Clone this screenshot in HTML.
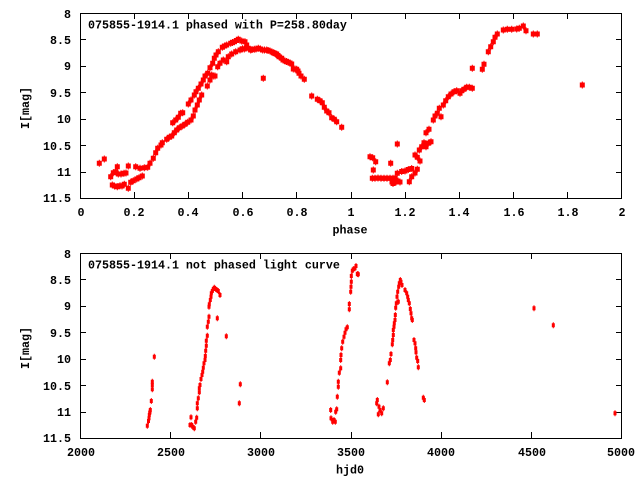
<!DOCTYPE html>
<html><head><meta charset="utf-8"><style>
html,body{margin:0;padding:0;background:#fff}
svg{display:block}
text{font-family:"Liberation Mono",monospace;font-weight:bold;font-size:11.67px;fill:#000}
</style></head><body>
<svg width="640" height="480" viewBox="0 0 640 480" xmlns="http://www.w3.org/2000/svg">
<defs>
<marker id="a" markerUnits="userSpaceOnUse" overflow="visible" refX="0" refY="0" markerWidth="1" markerHeight="1"><path d="M-2.5-2.5h5v5h-5zM-0.5-3.5h1v7h-1z" fill="#ff0000"/></marker>
<marker id="b" markerUnits="userSpaceOnUse" overflow="visible" refX="0" refY="0" markerWidth="1" markerHeight="1"><path d="M-1.5-2h3v4h-3zM-0.5-3h1v6h-1z" fill="#ff0000"/></marker>
</defs>
<rect width="640" height="480" fill="#fff"/>

<!-- TOP PLOT -->
<g stroke="#000" stroke-width="1" shape-rendering="crispEdges" fill="none">
<rect x="80.5" y="13.5" width="541" height="185"/>
<path d="M80 39.5h6M80 66.5h6M80 92.5h6M80 119.5h6M80 145.5h6M80 172.5h6
M622 39.5h-6M622 66.5h-6M622 92.5h-6M622 119.5h-6M622 145.5h-6M622 172.5h-6
M134.5 198v-6M188.5 198v-6M242.5 198v-6M296.5 198v-6M351.5 198v-6M405.5 198v-6M459.5 198v-6M513.5 198v-6M567.5 198v-6
M134.5 13v6M188.5 13v6M242.5 13v6M296.5 13v6M351.5 13v6M405.5 13v6M459.5 13v6M513.5 13v6M567.5 13v6"/>
</g>
<g text-anchor="end">
<text x="71" y="18">8</text>
<text x="71" y="44">8.5</text>
<text x="71" y="70">9</text>
<text x="71" y="97">9.5</text>
<text x="71" y="123">10</text>
<text x="71" y="150">10.5</text>
<text x="71" y="176">11</text>
<text x="71" y="202">11.5</text>
</g>
<g text-anchor="middle">
<text x="81" y="216">0</text>
<text x="134" y="216">0.2</text>
<text x="188" y="216">0.4</text>
<text x="243" y="216">0.6</text>
<text x="297" y="216">0.8</text>
<text x="351" y="216">1</text>
<text x="405" y="216">1.2</text>
<text x="459" y="216">1.4</text>
<text x="514" y="216">1.6</text>
<text x="568" y="216">1.8</text>
<text x="622" y="216">2</text>
<text x="350" y="233.5">phase</text>
<text x="29" y="108" transform="rotate(-90 29 108)">I[mag]</text>
</g>
<text x="88" y="28.3">075855-1914.1 phased with P=258.80day</text>

<path fill="none" stroke="none" marker-start="url(#a)" marker-mid="url(#a)" marker-end="url(#a)" d="M99.3 163.3 104.3 159 110.7 176.7 113.3 172.7 117.3 166.7 115.7 171.7 118.3 174 121 174 124 173.3 126 173 128.3 166 112.3 185 114.5 186 117.3 186.7 120 185.7 122 186 124.3 184.3 128.3 188.3 130.7 182.3 133.3 180.7 136.7 179 139 177.7 142.3 176 135.7 166.7 140 168.3 144.3 167.7 147.7 167.3 150 163.3 153.3 158.3 155.7 152.7 157.7 148.3 161 145 162.3 142.7 166.7 139.3 169.3 137.3 171.7 136 174.3 132.7 176.7 130 179.3 127.7 182.3 126 185 124.3 187.7 122.3 191 120 193.3 116 172.7 122.7 175.7 120 178.3 117.3 180.7 113.3 182.7 112.7 188.3 104 191 100 195 110 197.3 105 199.3 100 201.7 95 194.3 95 196 91.7 198.3 88.3 201 84 203.3 80 205 76 207.7 73.3 210 80 207.3 86 211.7 75 213.3 76 210 67.7 212.7 63.3 214.3 58.3 215 76 217.7 66.7 220 63.3 223.3 60 226.7 61.7 228.3 56.7 231.7 54 235.7 51.7 240 50 244.3 49 248.3 48.3 216 55 218.3 51.7 222.3 47.3 224.5 46 226.7 45 230.7 43.3 232.5 42.5 234.3 41.7 236.5 40.5 238.3 39.3 241.7 41 245 41.7 246.7 45 242.5 48.7 250.7 50 252 49.5 254.3 49.3 256 49 258.3 48.3 260.5 49 262.7 50 264.5 50 266.7 50 268 50.5 270 51 272 52 273.3 52.7 275 53.5 276.7 54 278 55.5 279 56.7 281.7 58.3 283 60 285 61 286.5 61.5 288.3 62.3 290 63 291.7 64 293.3 69 295 69 296.7 69.3 298 71 299 73.3 301 76 304.3 79.3 263.3 78.3 311.7 96 317.3 99.3 320 100.7 322.3 102.7 324.3 107.3 326.7 111 329 112.7 331.7 117.7 334.3 119.3 336.7 121.7 341.7 127.3 370 156.7 372.7 157.7 375.7 161.7 373.3 170 372.3 178.3 375 178.3 378 178 381 178.3 384 178.3 387 178.3 390 178.3 393 178.3 395 178.3 390.7 163.3 397.3 144 392 182 393 183.5 396 182 398 181 400 182 397.3 173.3 401.7 171.5 405 171 408.3 169.5 411.7 168.5 409.3 181.7 411.7 176.7 415 173 417.3 169.3 415 155 417.3 157.3 420 161 419.3 150 421.7 146.7 424 142.7 426 146.7 428.3 143.3 431 141.7 426 132.7 429 129.3 433.3 120 435 116 437.3 113.3 439.3 108.3 441 116.7 443.3 105 445.7 100.7 448.3 96.7 451 94 454 91.7 456.7 90.7 460 93.3 461.7 90.7 464 89.3 466.7 87.3 469.3 87.3 472.3 88.3 472.3 68.3 482.3 69.3 484 64.3 488.3 51.7 490.7 46.7 493.3 41.7 495 37.3 497.3 34 503.3 30 507.3 29.3 511.7 29.3 516.7 29 519.3 28.3 523.3 26 526 30.7 533.3 34 537.3 34 582.3 85"/>

<!-- BOTTOM PLOT -->
<g stroke="#000" stroke-width="1" shape-rendering="crispEdges" fill="none">
<rect x="80.5" y="253.5" width="541" height="185"/>
<path d="M80 279.5h6M80 306.5h6M80 332.5h6M80 359.5h6M80 385.5h6M80 412.5h6
M622 279.5h-6M622 306.5h-6M622 332.5h-6M622 359.5h-6M622 385.5h-6M622 412.5h-6
M170.5 438v-6M260.5 438v-6M351.5 438v-6M441.5 438v-6M531.5 438v-6
M170.5 253v6M260.5 253v6M351.5 253v6M441.5 253v6M531.5 253v6"/>
</g>
<g text-anchor="end">
<text x="71" y="258">8</text>
<text x="71" y="284">8.5</text>
<text x="71" y="310">9</text>
<text x="71" y="337">9.5</text>
<text x="71" y="363">10</text>
<text x="71" y="390">10.5</text>
<text x="71" y="416">11</text>
<text x="71" y="442">11.5</text>
</g>
<g text-anchor="middle">
<text x="81" y="456">2000</text>
<text x="171" y="456">2500</text>
<text x="261" y="456">3000</text>
<text x="351" y="456">3500</text>
<text x="441" y="456">4000</text>
<text x="532" y="456">4500</text>
<text x="621" y="456">5000</text>
<text x="350" y="473.5">hjd0</text>
<text x="29" y="348" transform="rotate(-90 29 348)">I[mag]</text>
</g>
<text x="88" y="268.3">075855-1914.1 not phased light curve</text>

<path fill="none" stroke="none" marker-start="url(#b)" marker-mid="url(#b)" marker-end="url(#b)" d="M147.3 425.7 148.5 421 149 418.3 149.3 415 149.7 413 150 411.7 150.3 410 151.3 401 152.3 389.3 152.3 385 152.3 381.7 154.3 356.7 191 417.3 190 425 191.7 425 192.7 426.7 194.3 428.3 195.7 421.7 196.7 417.7 197.3 408.3 197.3 403.3 198.3 398.3 199.3 392.3 199.3 388.3 200 385 201 379 202 375 202.7 371.7 203.3 367.7 204 363.3 205 360 205.3 356 205.7 350.7 206.3 345.7 206.3 340.7 207.3 335.7 207.3 326.7 208.3 321.7 209 316.7 209 306.7 209.3 304.3 210.3 300 211 296.7 211.3 293.3 212.3 291 213.3 289 214.3 287.7 215.7 289 217 290 218.3 291 220 295 217.3 318.3 226.3 336.3 240.3 384.3 239.3 403.3 330.7 410 331 418.3 332.7 421.7 334 420 335.3 421.7 335.7 411.7 336.7 409.3 337.3 396.7 338.3 386.7 338.3 381.7 339.3 372.7 340.7 368.3 340.7 360 341 355 341.7 348.3 342.7 341.7 344 336.7 345 332.7 346 329.3 347.3 327.3 349.3 309.3 349.3 304 350.7 291.7 351 286.7 351.3 281.7 351.3 276 352.3 270.7 353.3 269.3 355 268.3 356 266 357.3 274 358.3 274.3 387.3 382.3 377.3 400 376.7 403.3 379 406.7 380 410 378.3 414.3 381.7 413.3 383.3 408.3 389.3 363.3 390.3 360 391 354 392.3 344.3 392.7 340 393.3 335 393.3 330 394 326.7 394.3 323.3 395 320 395.3 315 395.7 307.7 396.3 303.3 397 296.7 397.7 291.7 398.7 286.7 399.3 283.3 400.3 280 401 281.7 402 285 398.3 301.7 405 290 406.7 293.3 407.7 296.7 408.3 300 409.3 303.3 410.3 309 411 313.3 411.7 318.3 412.3 320 414 340 415 343.3 415.7 348.3 416 352.3 416.7 357.7 417.7 361 418.3 367.3 423.3 397.7 424.3 400 534 308.3 553.3 325.3 615 413.3"/>
</svg>
</body></html>
